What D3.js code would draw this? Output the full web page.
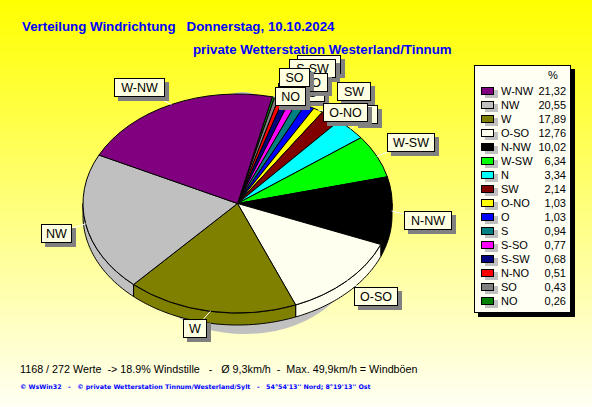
<!DOCTYPE html>
<html><head><meta charset="utf-8"><style>html,body{margin:0;padding:0;overflow:hidden}svg{display:block}</style>
<script src="https://cdn.jsdelivr.net/npm/d3@7"></script></head><body>
<svg id="c" width="592" height="407"></svg>
<script>
// data: sorted as in the legend
const categories=["W-NW","NW","W","O-SO","N-NW","W-SW","N","SW","O-NO","O","S","S-SO","S-SW","N-NO","SO","NO"];
const values=[21.32,20.55,17.89,12.76,10.02,6.34,3.34,2.14,1.03,1.03,0.94,0.77,0.68,0.51,0.43,0.26];
const colors=["#800080","#C0C0C0","#808000","#FFFFF0","#000000","#00FF00","#00FFFF","#800000","#FFFF00","#0000FF","#008080","#FF00FF","#000080","#FF0000","#808080","#008000"];
// slices run clockwise in this order
const sliceOrder=["NO","SO","N-NO","S-SW","S-SO","S","O","O-NO","SW","N","W-SW","N-NW","O-SO","W","NW","W-NW"];
// callout boxes [category,x,y,w] in paint order
const callouts=[["S-SO",297,55,44],["S-SW",289,59,47],["N-NO",278,83,47],["S",300,83,25],["O",304,73,24],["SW",337,82,34],["N",354,105,24],["SO",279,68,31],["NO",275,87,31],["O-NO",323,103,45],["W-SW",387,133,48],["N-NW",404,211,48],["O-SO",354,287,44],["W",183,319,24],["NW",41,224,31],["W-NW",114,78,51]];
const title1="Verteilung Windrichtung   Donnerstag, 10.10.2024";
const title2="private Wetterstation Westerland/Tinnum";
const foot1="1168 / 272 Werte  -> 18.9% Windstille   -   Ø 9,3km/h  -  Max. 49,9km/h = Windböen";
const foot2="© WsWin32   -   © private Wetterstation Tinnum/Westerland/Sylt   -   54°54'13'' Nord; 8°19'13'' Ost";

const cx=237.5,cy=203.5,rx=154.5,ry=109.5,depth=12,startDeg=13;
const svg=d3.select("#c");
const defs=svg.append("defs");
const g=defs.append("linearGradient").attr("id","bg").attr("x1",0).attr("y1",0).attr("x2",0).attr("y2",1);
g.append("stop").attr("offset",0).attr("stop-color","#FFFF00");
g.append("stop").attr("offset",1).attr("stop-color","#FFFFF4");
svg.append("rect").attr("width",592).attr("height",407).attr("fill","url(#bg)");

const T="Liberation Sans, Arial, sans-serif";
svg.selectAll("text.t").data([[22,31,title1],[193,54,title2]]).join("text").attr("x",d=>d[0]).attr("y",d=>d[1]).text(d=>d[2])
 .attr("font-family",T).attr("font-weight","bold").attr("font-size",13.3).attr("fill","#0000FF").style("white-space","pre");

const valueOf=new Map(categories.map((c,i)=>[c,values[i]]));
const colorOf=new Map(categories.map((c,i)=>[c,colors[i]]));
const a0=startDeg*Math.PI/180;
const pie=d3.pie().sort(null).value(d=>valueOf.get(d)).startAngle(a0).endAngle(a0+2*Math.PI);
const arcs=pie(sliceOrder);
const px=a=>cx+rx*Math.sin(a), py=a=>cy-ry*Math.cos(a);

// grey shadow showing under the pie and along its top edge
svg.append("ellipse").attr("cx",245).attr("cy",254).attr("rx",110).attr("ry",80).attr("fill","#C0C0C0");
svg.append("ellipse").attr("cx",243).attr("cy",140).attr("rx",40).attr("ry",48).attr("fill","#C0C0C0");

// walls
const line=d3.line();
const walls=svg.append("g");
arcs.forEach(d=>{
  const lo=Math.max(d.startAngle,Math.PI/2), hi=Math.min(d.endAngle,3*Math.PI/2);
  if(hi<=lo) return;
  const n=Math.max(2,Math.ceil((hi-lo)*60));
  const ts=d3.range(n+1).map(i=>lo+(hi-lo)*i/n);
  const pts=ts.map(t=>[px(t),py(t)]).concat(ts.slice().reverse().map(t=>[px(t),py(t)+depth]));
  walls.append("path").attr("d",line(pts)+"Z").attr("fill",colorOf.get(d.data)).attr("stroke","#000").attr("stroke-width",1);
});
// top faces
const arc=d3.arc().innerRadius(0).outerRadius(rx);
svg.append("g").attr("transform",`translate(${cx},${cy}) scale(1,${ry/rx})`)
 .selectAll("path").data(arcs).join("path").attr("d",arc).attr("fill",d=>colorOf.get(d.data))
 .attr("stroke","#000").attr("stroke-width",1).attr("vector-effect","non-scaling-stroke");

// leaders
const boxH=19;
const arcByCat=new Map(arcs.map(d=>[d.data,d]));
svg.append("g").selectAll("line").data(callouts).join("line")
 .attr("x1",d=>{const a=arcByCat.get(d[0]);return px((a.startAngle+a.endAngle)/2)})
 .attr("y1",d=>{const a=arcByCat.get(d[0]);return py((a.startAngle+a.endAngle)/2)})
 .attr("x2",d=>d[1]+d[3]/2).attr("y2",d=>d[2]+boxH/2).attr("stroke","#fff").attr("stroke-width",1);

// callouts
const cg=svg.append("g").selectAll("g").data(callouts).join("g").attr("transform",d=>`translate(${d[1]},${d[2]})`);
cg.append("rect").attr("x",4).attr("y",4).attr("width",d=>d[3]).attr("height",boxH).attr("fill","#808080");
cg.append("rect").attr("x",.5).attr("y",.5).attr("width",d=>d[3]-1).attr("height",boxH-1).attr("fill","#FFFFE1").attr("stroke","#000");
cg.append("text").attr("x",d=>d[3]/2).attr("y",14).attr("text-anchor","middle").text(d=>d[0])
 .attr("font-family",T).attr("font-size",12.5).attr("fill","#000");

// legend
const L={x:474,y:65,w:97,h:248};
svg.append("rect").attr("x",L.x+4).attr("y",L.y+4).attr("width",L.w).attr("height",L.h).attr("fill","#000");
svg.append("rect").attr("x",L.x+.5).attr("y",L.y+.5).attr("width",L.w-1).attr("height",L.h-1).attr("fill","#FFFFF4").attr("stroke","#000");
svg.append("text").attr("x",553).attr("y",79).attr("text-anchor","middle").text("%").attr("font-family",T).attr("font-size",11).attr("fill","#000");
const rowY=d3.scalePoint().domain(categories).range([91,301]);
const rows=svg.append("g").selectAll("g").data(categories).join("g").attr("transform",d=>`translate(0,${rowY(d)})`);
rows.append("rect").attr("x",485).attr("y",-1).attr("width",13).attr("height",8).attr("fill","#C0C0C0");
rows.append("rect").attr("x",481.5).attr("y",-3.5).attr("width",12).attr("height",7).attr("fill",d=>colorOf.get(d)).attr("stroke","#000");
rows.append("text").attr("x",501).attr("y",4).text(d=>d).attr("font-family",T).attr("font-size",11).attr("fill","#000");
rows.append("text").attr("x",566).attr("y",4).attr("text-anchor","end").text(d=>d3.format(".2f")(valueOf.get(d)).replace(".",","))
 .attr("font-family",T).attr("font-size",11).attr("fill","#000");

// footer
svg.append("text").attr("x",20).attr("y",373).text(foot1).style("white-space","pre").attr("font-family",T).attr("font-size",10.75).attr("fill","#000");
svg.append("text").attr("x",20).attr("y",389).text(foot2).style("white-space","pre").attr("font-family","DejaVu Sans, sans-serif").attr("font-weight","bold").attr("font-size",6.3).attr("fill","#0000FF");
</script></body></html>
